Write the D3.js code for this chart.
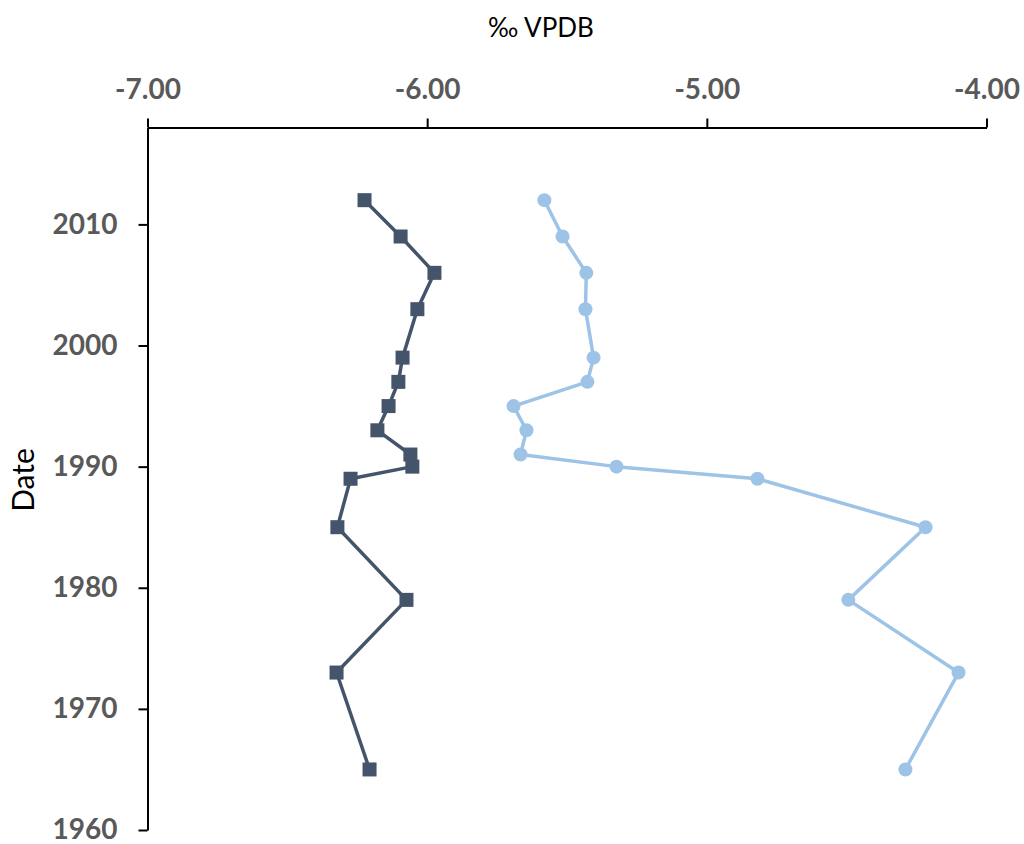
<!DOCTYPE html>
<html>
<head>
<meta charset="utf-8">
<script src="https://cdn.jsdelivr.net/npm/d3@7"></script>
<style>
  html, body { margin: 0; padding: 0; background: #fff; }
  svg { display: block; }
</style>
</head>
<body>
<svg id="chart" width="1024" height="844"></svg>
<script>
const years = [2012, 2009, 2006, 2003, 1999, 1997, 1995, 1993, 1991, 1990, 1989, 1985, 1979, 1973, 1965];
const seriesDark = [-6.224, -6.095, -5.974, -6.035, -6.088, -6.103, -6.138, -6.178, -6.060, -6.053, -6.274, -6.321, -6.074, -6.324, -6.206];
const seriesLight = [-5.581, -5.516, -5.431, -5.434, -5.405, -5.427, -5.691, -5.645, -5.666, -5.323, -4.819, -4.218, -4.494, -4.100, -4.290];
const xTicks = [-7, -6, -5, -4];
const yTicks = [1960, 1970, 1980, 1990, 2000, 2010];

(function () {
const svg = d3.select("#chart");
const mLeft = 147.5, mRight = 986.5, mTop = 127.5, mBottom = 830;

const x = d3.scaleLinear().domain([-7, -4]).range([mLeft, mRight]);
const y = d3.scaleLinear().domain([1960, 2018]).range([mBottom, mTop]);

const labelFont = "Lato, 'Open Sans', sans-serif";
const fmtX = d3.formatLocale({ decimal: ".", thousands: ",", grouping: [3], currency: ["", ""], minus: "-" }).format(".2f");

// X axis (top)
const xAxis = svg.append("g")
  .attr("transform", `translate(0,${mTop})`)
  .call(d3.axisTop(x).tickValues(xTicks).tickSize(9).tickSizeOuter(0).tickPadding(20).tickFormat(fmtX));
xAxis.select(".domain").attr("stroke", "#000").attr("stroke-width", 2);
xAxis.selectAll(".tick line").attr("stroke", "#000").attr("stroke-width", 2);
xAxis.selectAll(".tick text")
  .attr("fill", "#595959").attr("font-family", labelFont)
  .attr("font-size", 28).attr("font-weight", "bold");

// Y axis (left)
const yAxis = svg.append("g")
  .attr("transform", `translate(${mLeft},0)`)
  .call(d3.axisLeft(y).tickValues(yTicks).tickSize(9).tickSizeOuter(0).tickPadding(21).tickFormat(d3.format("d")));
yAxis.select(".domain").attr("stroke", "#000").attr("stroke-width", 2);
yAxis.selectAll(".tick line").attr("stroke", "#000").attr("stroke-width", 2);
yAxis.selectAll(".tick text")
  .attr("fill", "#595959").attr("font-family", labelFont)
  .attr("font-size", 28).attr("font-weight", "bold");

// Titles
svg.append("text")
  .attr("x", 541).attr("y", 37)
  .attr("text-anchor", "middle")
  .attr("font-family", labelFont).attr("font-size", 26)
  .attr("fill", "#000")
  .text("‰ VPDB");

svg.append("text")
  .attr("transform", `translate(34,480) rotate(-90)`)
  .attr("text-anchor", "middle")
  .attr("font-family", labelFont).attr("font-size", 30)
  .attr("fill", "#000")
  .text("Date");

const darkData = years.map((yr, i) => ({ year: yr, v: seriesDark[i] }));
const lightData = years.map((yr, i) => ({ year: yr, v: seriesLight[i] }));

const line = d3.line().x(d => x(d.v)).y(d => y(d.year));

const darkColor = "#44546A", lightColor = "#9DC3E6";

svg.append("path").datum(darkData)
  .attr("d", line).attr("fill", "none")
  .attr("stroke", darkColor).attr("stroke-width", 3.5).attr("stroke-linejoin", "round");
svg.append("g").selectAll("rect").data(darkData).join("rect")
  .attr("x", d => x(d.v) - 7).attr("y", d => y(d.year) - 7)
  .attr("width", 14).attr("height", 14)
  .attr("fill", darkColor);

svg.append("path").datum(lightData)
  .attr("d", line).attr("fill", "none")
  .attr("stroke", lightColor).attr("stroke-width", 3.5).attr("stroke-linejoin", "round");
svg.append("g").selectAll("circle").data(lightData).join("circle")
  .attr("cx", d => x(d.v)).attr("cy", d => y(d.year))
  .attr("r", 7)
  .attr("fill", lightColor);
})();
</script>
</body>
</html>
